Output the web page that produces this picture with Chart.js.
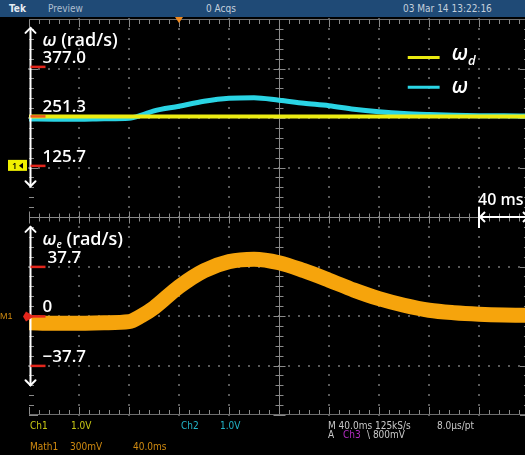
<!DOCTYPE html>
<html><head><meta charset="utf-8">
<script src="https://cdn.jsdelivr.net/npm/chart.js@4.4.1/dist/chart.umd.min.js"></script>
<style>
html,body{margin:0;padding:0;background:#000;overflow:hidden;width:525px;height:455px;}
#wrap{position:relative;width:525px;height:455px;overflow:hidden;background:#000;}
canvas{position:absolute;left:0;top:0;}
#hdr{position:absolute;left:0;top:0;width:525px;height:17px;background:#1f4a76;}
.t{position:absolute;font-family:"Liberation Sans Narrow","DejaVu Sans Condensed","Liberation Sans",sans-serif;font-size:10px;line-height:10px;white-space:nowrap;}
</style></head>
<body><div id="wrap">
<canvas id="c" width="530" height="455"></canvas>
<div id="hdr"></div>
<div class="t" style="left:9px;top:4px;color:#e6ecf2;font-weight:bold">Tek</div>
<div class="t" style="left:48px;top:4px;color:#aebfd0">Preview</div>
<div class="t" style="left:206px;top:4px;color:#c4d0dc">0 Acqs</div>
<div class="t" style="left:403px;top:4px;color:#c4d0dc">03 Mar 14 13:22:16</div>

<div class="t" style="left:30px;top:421px;color:#c8c814">Ch1</div>
<div class="t" style="left:71px;top:421px;color:#c8c814">1.0V</div>
<div class="t" style="left:181px;top:421px;color:#22b4c8">Ch2</div>
<div class="t" style="left:220px;top:421px;color:#22b4c8">1.0V</div>
<div class="t" style="left:328px;top:421px;color:#c8c8c8">M 40.0ms 125kS/s</div>
<div class="t" style="left:437px;top:421px;color:#c8c8c8">8.0µs/pt</div>
<div class="t" style="left:328px;top:430px;color:#c8c8c8">A</div>
<div class="t" style="left:343px;top:430px;color:#b02cc0">Ch3</div>
<div class="t" style="left:367px;top:430px;color:#c8c8c8">\ 800mV</div>
<div class="t" style="left:30px;top:442px;color:#d08a10">Math1</div>
<div class="t" style="left:70px;top:442px;color:#d08a10">300mV</div>
<div class="t" style="left:133px;top:442px;color:#d08a10">40.0ms</div>
</div>
<script>
// ---- data ----
const timeMs   = [0, 20, 40, 60, 80, 90, 100, 120, 140, 160, 180, 200, 220, 240, 260, 280, 300, 320, 340, 360, 380, 400];
const omegaRef = [251.3, 251.3, 251.3, 251.3, 251.3, 251.3, 251.3, 251.3, 251.3, 251.3, 251.3, 251.3, 251.3, 251.3, 251.3, 251.3, 251.3, 251.3, 251.3, 251.3, 251.3, 251.3];
const omegaAct = [244.7, 244.2, 244.2, 245.5, 246.7, 254.3, 265.5, 277.2, 289.9, 297.5, 298.8, 292.4, 284.8, 278.5, 269.6, 263.2, 258.7, 256.1, 254.3, 253.1, 252.8, 252.3];
const omegaErr = [-4.8, -5.2, -5.2, -4.8, -4.0, 0.5, 6.6, 22.6, 34.8, 41.7, 43.6, 40.9, 34.8, 27.6, 20.0, 13.5, 8.5, 4.7, 2.8, 1.7, 1.1, 0.9];
const omegaTicks = [377.0, 251.3, 125.7];
const errTicks   = [37.7, 0, -37.7];
const errTickLabels = ['37.7', '0', '\u221237.7'];
const timePerDiv = 40;

function pts(arr){ return timeMs.map((t,i)=>({x:t, y:arr[i]})); }

const FONT = '"Open Sans","Noto Sans",sans-serif';

function chevron(ctx, x, y, dx, dy, s){
  const px = -dy, py = dx;
  ctx.beginPath();
  ctx.moveTo(x - dx*s + px*s, y - dy*s + py*s);
  ctx.lineTo(x, y);
  ctx.lineTo(x - dx*s - px*s, y - dy*s - py*s);
  ctx.stroke();
}

const gridPlugin = {
  id:'scopeGrid',
  beforeDatasetsDraw(chart){
    const {ctx, chartArea:a} = chart;
    const x = chart.scales.x, yd = chart.scales.yDiv;
    ctx.save();
    ctx.fillStyle = '#5a5a5a';
    for (let i=1;i<10;i++){
      if (i===5) continue;
      const px = Math.round(x.getPixelForValue(i*timePerDiv));
      for (let k=-20;k<=20;k++){
        const py = Math.round(yd.getPixelForValue(k/5));
        ctx.fillRect(px-1, py-1, 2, 2);
      }
    }
    for (let j=-3;j<=3;j++){
      if (j===0) continue;
      const py = Math.round(yd.getPixelForValue(j));
      for (let k=0;k<=50;k++){
        const px = Math.round(x.getPixelForValue(k*timePerDiv/5));
        ctx.fillRect(px-1, py-1, 2, 2);
      }
    }
    ctx.strokeStyle = '#8a8a8a';
    ctx.lineWidth = 1;
    const cx = Math.round(x.getPixelForValue(5*timePerDiv))+0.5;
    const cy = Math.round(yd.getPixelForValue(0))+0.5;
    ctx.beginPath();
    ctx.moveTo(cx, a.top); ctx.lineTo(cx, a.bottom);
    ctx.moveTo(a.left, cy); ctx.lineTo(a.right, cy);
    for (let k=0;k<=50;k++){
      const px = Math.round(x.getPixelForValue(k*timePerDiv/5))+0.5;
      const L = (k%5===0)?6:4;
      ctx.moveTo(px, cy-L); ctx.lineTo(px, cy+L);
      const Le = (k%5===0)?8:5;
      ctx.moveTo(px, a.top); ctx.lineTo(px, a.top+Le);
      ctx.moveTo(px, a.bottom); ctx.lineTo(px, a.bottom-Le);
    }
    for (let k=-20;k<=20;k++){
      const py = Math.round(yd.getPixelForValue(k/5))+0.5;
      const L = (k%5===0)?6:4;
      ctx.moveTo(cx-L, py); ctx.lineTo(cx+L, py);
      const Le = (k%5===0)?9:5;
      ctx.moveTo(a.left, py); ctx.lineTo(a.left+Le, py);
      ctx.moveTo(a.right, py); ctx.lineTo(a.right-Le, py);
    }
    ctx.stroke();
    ctx.strokeStyle = '#6e6e6e';
    ctx.beginPath();
    ctx.moveTo(a.left, a.bottom-0.5); ctx.lineTo(a.right, a.bottom-0.5);
    ctx.moveTo(a.left, a.top+0.5); ctx.lineTo(a.right, a.top+0.5);
    ctx.stroke();
    ctx.restore();
  }
};

const overlayPlugin = {
  id:'scopeOverlay',
  afterDatasetsDraw(chart){
    const {ctx, chartArea:a} = chart;
    const x = chart.scales.x, yd = chart.scales.yDiv, yW = chart.scales.yW, yE = chart.scales.yE;
    const ax = a.left + 1.5;
    ctx.save();
    ctx.strokeStyle = '#ffffff';
    ctx.lineWidth = 2;
    ctx.lineCap = 'round';
    const segs = [[yd.getPixelForValue(3.82), yd.getPixelForValue(0.62)], [yd.getPixelForValue(-0.2), yd.getPixelForValue(-3.4)]];
    for (const [t,b] of segs){
      ctx.beginPath(); ctx.moveTo(ax, t); ctx.lineTo(ax, b); ctx.stroke();
      chevron(ctx, ax, t, 0, -1, 5);
      chevron(ctx, ax, b, 0, 1, 5);
    }
    ctx.lineWidth = 2.5;
    ctx.lineCap = 'butt';
    for (const v of omegaTicks){
      const py = yW.getPixelForValue(v);
      ctx.strokeStyle = (v===251.3)?'#ee5a1e':'#e3261c';
      ctx.beginPath(); ctx.moveTo(ax, py); ctx.lineTo(ax+15, py); ctx.stroke();
    }
    ctx.strokeStyle = '#e3261c';
    for (const v of errTicks){
      const py = yE.getPixelForValue(v);
      ctx.beginPath(); ctx.moveTo(ax, py); ctx.lineTo(ax+15, py); ctx.stroke();
    }
    ctx.fillStyle = '#ffffff';
    ctx.textAlign = 'left';
    ctx.textBaseline = 'alphabetic';
    ctx.font = '600 17px ' + FONT;
    omegaTicks.forEach(v=>{
      ctx.fillText(v.toFixed(1), ax+12, yW.getPixelForValue(v)-4);
    });
    errTicks.forEach((v,i)=>{
      const dx = (v>0)?17:12;
      ctx.fillText(errTickLabels[i], ax+dx, yE.getPixelForValue(v)-4);
    });
    const t1y = yd.getPixelForValue(3.45);
    ctx.font = 'italic 600 18px ' + FONT;
    ctx.fillText('\u03c9', ax+12, t1y);
    let w = ctx.measureText('\u03c9').width;
    ctx.font = '600 18px ' + FONT;
    ctx.fillText(' (rad/s)', ax+12+w, t1y);
    const t2y = yd.getPixelForValue(-0.57);
    ctx.font = 'italic 600 18px ' + FONT;
    ctx.fillText('\u03c9', ax+12, t2y);
    w = ctx.measureText('\u03c9').width;
    ctx.font = 'italic 600 10px ' + FONT;
    ctx.fillText('e', ax+12+w, t2y+3);
    const w2 = ctx.measureText('e').width;
    ctx.font = '600 18px ' + FONT;
    ctx.fillText(' (rad/s)', ax+12+w+w2, t2y);

    const legX = x.getPixelForValue(303), legX2 = x.getPixelForValue(328.5);
    const lgY1 = yd.getPixelForValue(3.22), lgY2 = yd.getPixelForValue(2.62);
    ctx.lineWidth = 3;
    ctx.strokeStyle = '#eaea10';
    ctx.beginPath(); ctx.moveTo(legX, lgY1); ctx.lineTo(legX2, lgY1); ctx.stroke();
    ctx.strokeStyle = '#2bd6e6';
    ctx.beginPath(); ctx.moveTo(legX, lgY2); ctx.lineTo(legX2, lgY2); ctx.stroke();
    ctx.fillStyle = '#ffffff';
    ctx.font = 'italic 600 21px ' + FONT;
    ctx.fillText('\u03c9', legX2+12, lgY1+2);
    w = ctx.measureText('\u03c9').width;
    ctx.font = 'italic 600 13px ' + FONT;
    ctx.fillText('d', legX2+12+w, lgY1+7);
    ctx.font = 'italic 600 21px ' + FONT;
    ctx.fillText('\u03c9', legX2+12, lgY2+6);

    const m0 = x.getPixelForValue(9*timePerDiv), m1 = x.getPixelForValue(10*timePerDiv);
    const my = yd.getPixelForValue(0);
    ctx.strokeStyle = '#ffffff';
    ctx.lineWidth = 2;
    ctx.beginPath(); ctx.moveTo(m0, my-10); ctx.lineTo(m0, my+11);
    ctx.moveTo(m0, my); ctx.lineTo(m1, my); ctx.stroke();
    chevron(ctx, m0+1, my, -1, 0, 5);
    chevron(ctx, m1-1, my, 1, 0, 5);
    ctx.font = '600 16px ' + FONT;
    ctx.fillText(timePerDiv + ' ms', m0-1, my-12);

    const tx = x.getPixelForValue(3*timePerDiv);
    ctx.fillStyle = '#f28a1e';
    ctx.beginPath(); ctx.moveTo(tx-4, a.top-2); ctx.lineTo(tx+4, a.top-2); ctx.lineTo(tx, a.top+4); ctx.closePath(); ctx.fill();

    const c1 = yW.getPixelForValue(125.7);
    ctx.fillStyle = '#f0f000';
    ctx.fillRect(a.left-21, c1-6, 19, 11);
    ctx.fillStyle = '#000';
    ctx.font = '600 9px ' + FONT;
    ctx.fillText('1', a.left-17, c1+3);
    ctx.beginPath(); ctx.moveTo(a.left-6, c1-3); ctx.lineTo(a.left-10, c1); ctx.lineTo(a.left-6, c1+3); ctx.closePath(); ctx.fill();

    const m1y = yE.getPixelForValue(0);
    ctx.fillStyle = '#e3261c';
    ctx.beginPath(); ctx.moveTo(a.left-3, m1y-5); ctx.lineTo(a.left+5, m1y); ctx.lineTo(a.left-3, m1y+5); ctx.lineTo(a.left-6, m1y); ctx.closePath(); ctx.fill();
    ctx.fillStyle = '#d08a10';
    ctx.font = '9px "Liberation Sans Narrow","Liberation Sans",sans-serif';
    ctx.fillText('M1', a.left-29, m1y+3);
    ctx.restore();
  }
};

new Chart(document.getElementById('c').getContext('2d'), {
  type:'line',
  data:{ datasets:[
    {label:'\u03c9d', data: pts(omegaRef), yAxisID:'yW', borderColor:'#ecec12', borderWidth:4, pointRadius:0, cubicInterpolationMode:'monotone'},
    {label:'\u03c9', data: pts(omegaAct), yAxisID:'yW', borderColor:'#2ad4e4', borderWidth:5, pointRadius:0, cubicInterpolationMode:'monotone'},
    {label:'\u03c9e', data: pts(omegaErr), yAxisID:'yE', borderColor:'#f6a40c', borderWidth:15, pointRadius:0, cubicInterpolationMode:'monotone'}
  ]},
  options:{
    responsive:false, animation:false, devicePixelRatio:1, events:[],
    layout:{padding:{left:29, top:19, right:1, bottom:40}},
    plugins:{legend:{display:false}, tooltip:{enabled:false}},
    scales:{
      x:{type:'linear', min:0, max:10*timePerDiv, display:false},
      yDiv:{type:'linear', min:-4, max:4, display:false},
      yW:{type:'linear', min:-506.75, max:498.55, display:false},
      yE:{type:'linear', min:-75.1, max:226.5, display:false}
    }
  },
  plugins:[gridPlugin, overlayPlugin]
});
</script>
</body></html>
